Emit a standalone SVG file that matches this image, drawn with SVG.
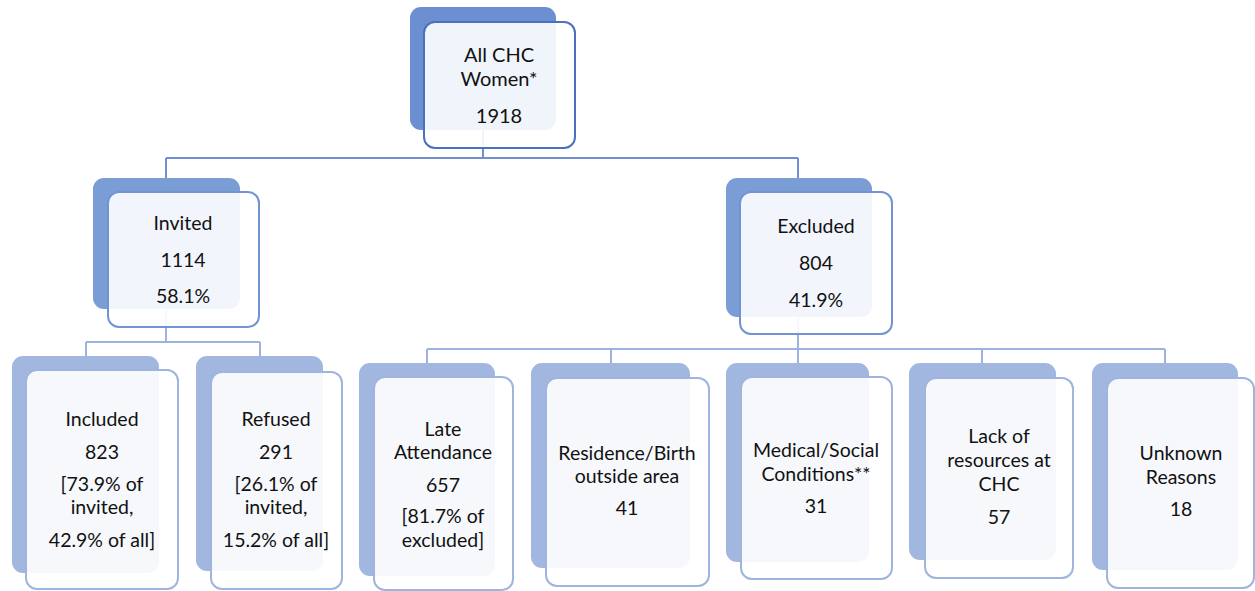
<svg xmlns="http://www.w3.org/2000/svg" width="1255" height="591" viewBox="0 0 1255 591">
<style>
text{font-family:Lato,"Open Sans","Liberation Sans",sans-serif;font-size:19.5px;fill:#111;text-anchor:middle}
#all text{font-size:20px}
.c1{stroke:#6f8fd0;stroke-width:2;fill:none}
.c2{stroke:#9db2de;stroke-width:2;fill:none}
.b1{fill:#6b8fd0}
.b2{fill:#7b9dd6}
.b3{fill:#a1b7e0}
.f1{fill:#fff;fill-opacity:0.9;stroke:#4a70bf;stroke-width:2}
.f2{fill:#fff;fill-opacity:0.9;stroke:#7394d4;stroke-width:2}
.f3{fill:#fff;fill-opacity:0.9;stroke:#9fb4de;stroke-width:2}
</style>
<rect width="1255" height="591" fill="#fff"/>
<g id="connectors">
<path class="c1" d="M483 130V158M166 158H798M166 158V178M798 158V178"/>
<path class="c2" d="M166 309V342M86 342H260M86 342V356M260 342V356"/>
<path class="c2" d="M798 317V349M427 349H1165M427 349V363M611 349V363M798 349V363M982 349V363M1165 349V363"/>
</g>
<g id="all">
<rect class="b1" x="410" y="7" width="146" height="123" rx="11"/>
<rect class="f1" x="424" y="22" width="151" height="126" rx="11"/>
<text x="499" y="62">All CHC</text><text x="499" y="86">Women*</text><text x="499" y="123">1918</text>
</g>
<g id="invited">
<rect class="b2" x="93" y="178" width="147" height="131" rx="11"/>
<rect class="f2" x="108" y="192" width="151" height="135" rx="11"/>
<text x="183" y="230">Invited</text><text x="183" y="267">1114</text><text x="183" y="303">58.1%</text>
</g>
<g id="excluded">
<rect class="b2" x="726" y="178" width="146" height="139" rx="11"/>
<rect class="f2" x="740" y="192" width="152" height="142" rx="11"/>
<text x="816" y="233">Excluded</text><text x="816" y="270">804</text><text x="816" y="307">41.9%</text>
</g>
<g id="included">
<rect class="b3" x="12" y="356" width="147" height="217" rx="11"/>
<rect class="f3" x="26" y="370" width="152" height="219" rx="11"/>
<text x="102" y="426">Included</text><text x="102" y="459">823</text><text x="102" y="491">[73.9% of</text><text x="102" y="514">invited,</text><text x="102" y="547">42.9% of all]</text>
</g>
<g id="refused">
<rect class="b3" x="196" y="356" width="127" height="215" rx="11"/>
<rect class="f3" x="211" y="372" width="131" height="217" rx="11"/>
<text x="276" y="426">Refused</text><text x="276" y="459">291</text><text x="276" y="491">[26.1% of</text><text x="276" y="514">invited,</text><text x="276" y="547">15.2% of all]</text>
</g>
<g id="late">
<rect class="b3" x="359" y="363" width="136" height="213" rx="11"/>
<rect class="f3" x="374" y="377" width="139" height="213" rx="11"/>
<text x="443" y="436">Late</text><text x="443" y="459">Attendance</text><text x="443" y="492">657</text><text x="443" y="523">[81.7% of</text><text x="443" y="547">excluded]</text>
</g>
<g id="residence">
<rect class="b3" x="531" y="363" width="159" height="205" rx="11"/>
<rect class="f3" x="546" y="378" width="163" height="208" rx="11"/>
<text x="627" y="460">Residence/Birth</text><text x="627" y="483">outside area</text><text x="627" y="515">41</text>
</g>
<g id="medical">
<rect class="b3" x="726" y="363" width="143" height="199" rx="11"/>
<rect class="f3" x="741" y="377" width="151" height="202" rx="11"/>
<text x="816" y="457">Medical/Social</text><text x="816" y="481">Conditions**</text><text x="816" y="513">31</text>
</g>
<g id="lack">
<rect class="b3" x="909" y="363" width="147" height="197" rx="11"/>
<rect class="f3" x="925" y="378" width="148" height="200" rx="11"/>
<text x="999" y="443">Lack of</text><text x="999" y="467">resources at</text><text x="999" y="491">CHC</text><text x="999" y="524">57</text>
</g>
<g id="unknown">
<rect class="b3" x="1092" y="363" width="146" height="207" rx="11"/>
<rect class="f3" x="1107" y="378" width="147" height="210" rx="11"/>
<text x="1181" y="460">Unknown</text><text x="1181" y="484">Reasons</text><text x="1181" y="516">18</text>
</g>
</svg>
